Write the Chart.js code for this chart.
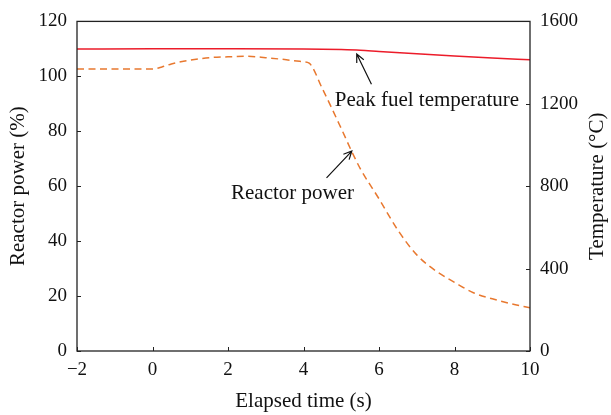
<!DOCTYPE html>
<html>
<head>
<meta charset="utf-8">
<script src="https://cdn.jsdelivr.net/npm/chart.js@4"></script>
<style>
html,body{margin:0;padding:0;background:#fff;}
#wrap{width:611px;height:415px;position:relative;}
</style>
</head>
<body>
<div id="wrap"><canvas id="c" width="611" height="415"></canvas></div>
<script>
// ---- data ----
const powerTime = [-2, -1, 0, 0.25, 0.5, 0.75, 1, 1.5, 2, 2.5, 3, 3.5, 4, 4.15, 4.5, 5, 5.3, 5.5, 6, 6.5, 7, 7.5, 8, 8.5, 9, 9.5, 10];
const powerPct  = [102.7, 102.7, 102.7, 103.4, 104.5, 105.3, 105.9, 106.8, 107.1, 107.3, 106.8, 106.1, 105.3, 104.8, 95.5, 81, 72, 66.5, 55.4, 44, 35, 29.2, 25, 21.2, 19, 17.2, 15.7];
const tempTime  = [-2, 0, 2, 4, 5, 5.5, 6, 7, 8, 9, 10];
const tempC     = [1466, 1467, 1467, 1466, 1463, 1460, 1454, 1443, 1432, 1422, 1414];
const xTicks    = [-2, 0, 2, 4, 6, 8, 10];
const powerTicks = [0, 20, 40, 60, 80, 100, 120];
const tempTicks  = [0, 400, 800, 1200, 1600];
const seriesNames = ["Reactor power", "Peak fuel temperature"];
const axisTitles = {x: "Elapsed time (s)", y: "Reactor power (%)", y2: "Temperature (\u00B0C)"};
// annotation labels (data units: x = time, y = reactor power %)
const notes = [
  {text: "Peak fuel temperature", x: 7.27, y: 91.1, tail: [5.80, 97.1], head: [5.41, 108.1]},
  {text: "Reactor power", x: 3.71, y: 57.3, tail: [4.61, 63.0], head: [5.28, 72.8]}
];

const FONT = "'Liberation Serif', 'DejaVu Serif', serif";
const fmt = v => String(v).replace('-', '\u2212');

const framePlugin = {
  id: 'frame',
  afterDatasetsDraw(chart) {
    const {ctx, chartArea: a, scales} = chart;
    ctx.save();
    ctx.strokeStyle = '#222';
    ctx.lineWidth = 1.3;
    ctx.strokeRect(a.left, a.top, a.right - a.left, a.bottom - a.top);
    ctx.lineWidth = 1;
    ctx.beginPath();
    const tl = 4;
    xTicks.forEach(v => { const px = Math.round(scales.x.getPixelForValue(v)) + 0.5; ctx.moveTo(px, a.bottom); ctx.lineTo(px, a.bottom - tl); });
    powerTicks.forEach(v => { const py = Math.round(scales.y.getPixelForValue(v)) + 0.5; ctx.moveTo(a.left, py); ctx.lineTo(a.left + tl, py); });
    tempTicks.forEach(v => { const py = Math.round(scales.y2.getPixelForValue(v)) + 0.5; ctx.moveTo(a.right, py); ctx.lineTo(a.right - tl, py); });
    ctx.stroke();
    // annotations
    ctx.fillStyle = '#111';
    ctx.font = "21px " + FONT;
    ctx.textAlign = 'center';
    ctx.textBaseline = 'middle';
    notes.forEach(n => {
      ctx.fillText(n.text, scales.x.getPixelForValue(n.x), scales.y.getPixelForValue(n.y));
      const x1 = scales.x.getPixelForValue(n.tail[0]), y1 = scales.y.getPixelForValue(n.tail[1]);
      const x2 = scales.x.getPixelForValue(n.head[0]), y2 = scales.y.getPixelForValue(n.head[1]);
      ctx.strokeStyle = '#111';
      ctx.lineWidth = 1.2;
      ctx.beginPath();
      ctx.moveTo(x1, y1); ctx.lineTo(x2, y2);
      const ang = Math.atan2(y2 - y1, x2 - x1), L = 9, w = 0.45;
      ctx.moveTo(x2 - L * Math.cos(ang - w), y2 - L * Math.sin(ang - w));
      ctx.lineTo(x2, y2);
      ctx.lineTo(x2 - L * Math.cos(ang + w), y2 - L * Math.sin(ang + w));
      ctx.stroke();
    });
    // right axis title, reading bottom-to-top
    ctx.save();
    ctx.translate(scales.y2.right - 14, (a.top + a.bottom) / 2);
    ctx.rotate(-Math.PI / 2);
    ctx.fillText(axisTitles.y2, 0, 0);
    ctx.restore();
    ctx.restore();
  }
};

new Chart(document.getElementById('c'), {
  type: 'line',
  data: {
    datasets: [
      {
        label: seriesNames[0],
        data: powerTime.map((t, i) => ({x: t, y: powerPct[i]})),
        yAxisID: 'y',
        borderColor: '#e8782f',
        borderWidth: 1.5,
        borderDash: [7, 4.5],
        pointRadius: 0,
        cubicInterpolationMode: 'monotone',
        fill: false
      },
      {
        label: seriesNames[1],
        data: tempTime.map((t, i) => ({x: t, y: tempC[i]})),
        yAxisID: 'y2',
        borderColor: '#ec1c2a',
        borderWidth: 1.5,
        pointRadius: 0,
        cubicInterpolationMode: 'monotone',
        fill: false
      }
    ]
  },
  options: {
    responsive: false,
    animation: false,
    layout: {padding: {top: 16, left: 0, right: 0, bottom: 0}},
    plugins: {legend: {display: false}, tooltip: {enabled: false}},
    scales: {
      x: {
        type: 'linear', min: -2, max: 10,
        afterBuildTicks: s => { s.ticks = xTicks.map(v => ({value: v})); },
        afterFit: s => { s.height = 64; },
        grid: {display: false, drawTicks: false}, border: {display: false},
        ticks: {color: '#111', font: {family: FONT, size: 19}, padding: 8, callback: fmt, maxRotation: 0},
        title: {display: true, text: axisTitles.x, color: '#111', font: {family: FONT, size: 21}, padding: {top: 0, bottom: 1}}
      },
      y: {
        position: 'left', min: 0, max: 120,
        afterBuildTicks: s => { s.ticks = powerTicks.map(v => ({value: v})); },
        afterFit: s => { s.width = 77; },
        grid: {display: false, drawTicks: false}, border: {display: false},
        ticks: {color: '#111', font: {family: FONT, size: 19}, padding: 10},
        title: {display: true, text: axisTitles.y, color: '#111', font: {family: FONT, size: 21}, padding: {top: 6, bottom: 0}}
      },
      y2: {
        position: 'right', min: 0, max: 1600,
        afterBuildTicks: s => { s.ticks = tempTicks.map(v => ({value: v})); },
        afterFit: s => { s.width = 81; },
        grid: {display: false, drawTicks: false}, border: {display: false},
        ticks: {color: '#111', font: {family: FONT, size: 19}, padding: 10, callback: v => String(v)},
        title: {display: false}
      }
    }
  },
  plugins: [framePlugin]
});
</script>
</body>
</html>
